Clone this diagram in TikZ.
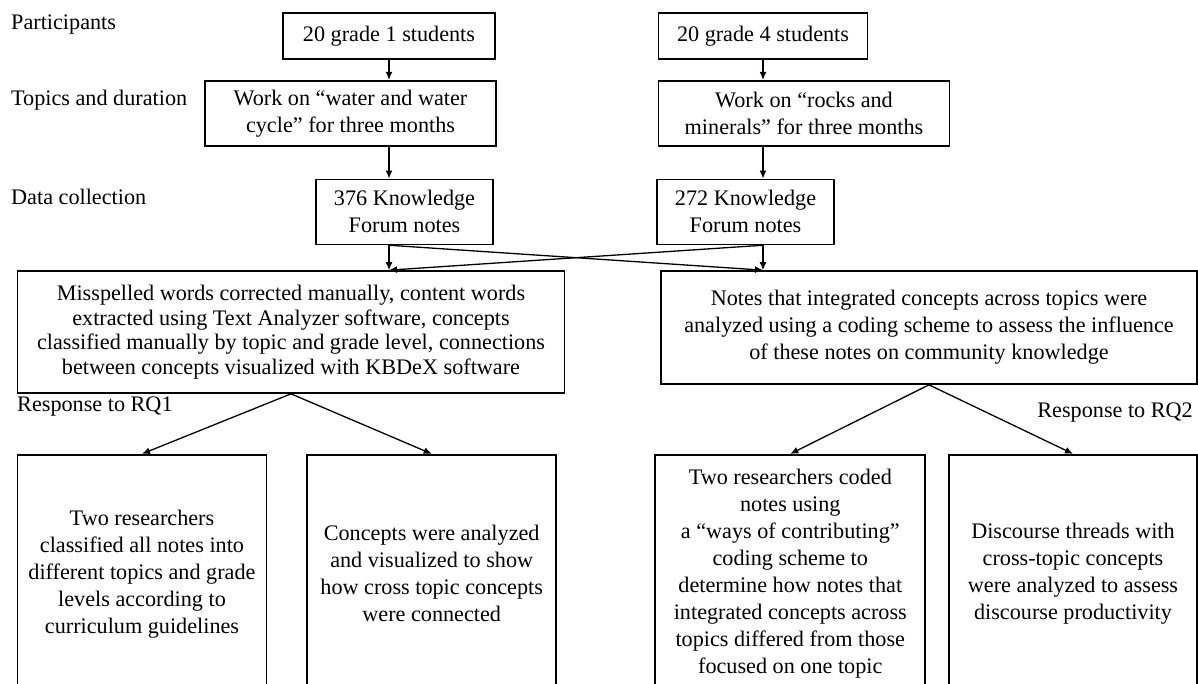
\documentclass[tikz,border=0pt]{standalone}
\usepackage{fontspec}
\setmainfont{Liberation Serif}
\usetikzlibrary{arrows.meta,positioning}

\begin{document}
\begin{tikzpicture}[
    x=1pt, y=-1pt,
    font=\fontsize{22.2pt}{27pt}\selectfont,
    caixa/.style={draw, line width=1.7pt, align=center, inner xsep=4pt,
        inner ysep=2pt},
    rotulo/.style={anchor=west, inner sep=0pt},
    fluxo/.style={-{Latex[length=8pt, width=7pt]}, line width=1.3pt}
]
    \clip (0,0) rectangle (1198,684);

    % row labels
    \node[rotulo] (lblpart) at (11,25) {Participants};
    \node[rotulo] (lbltopic) at (11,100) {Topics and duration};
    \node[rotulo] (lbldata) at (11,197) {Data collection};

    % grade 1 column
    \node[caixa, minimum width=212pt, minimum height=46pt] (grade1) at (389,36)
        {20 grade 1 students};
    \node[caixa, minimum width=291pt, minimum height=65pt,
        below=20pt of grade1.south east, anchor=north east, xshift=1pt] (topic1)
        {Work on ``water and water\\ cycle'' for three months};
    \node[caixa, minimum width=177pt, minimum height=65pt,
        below=32pt of topic1.south east, anchor=north east, xshift=-3pt] (notes1)
        {376 Knowledge\\ Forum notes};

    % grade 4 column
    \node[caixa, minimum width=209pt, minimum height=46pt] (grade4) at (763,36)
        {20 grade 4 students};
    \node[caixa, minimum width=291pt, minimum height=65pt,
        below=20pt of grade4.south west, anchor=north west] (topic4)
        {Work on ``rocks and\\ minerals'' for three months};
    \node[caixa, minimum width=177pt, minimum height=65pt,
        below=32pt of topic4.south west, anchor=north west, xshift=-1.5pt] (notes4)
        {272 Knowledge\\ Forum notes};

    % analysis
    \node[caixa, minimum width=547pt, minimum height=122pt,
        font=\fontsize{22.2pt}{24.6pt}\selectfont] (lexical) at (291,332)
        {Misspelled words corrected manually, content words\\
        extracted using Text Analyzer software, concepts\\
        classified manually by topic and grade level, connections\\
        between concepts visualized with KBDeX software};
    \node[caixa, minimum width=536pt, minimum height=113pt] (discourse) at (929,327.5)
        {Notes that integrated concepts across topics were\\
        analyzed using a coding scheme to assess the influence\\
        of these notes on community knowledge};

    \node[rotulo] (lblrq1) at (17,407) {Response to RQ1};
    \node[rotulo, anchor=east] (lblrq2) at (1193,413) {Response to RQ2};

    % responses
    \node[caixa, minimum width=249pt, minimum height=238pt,
        below=60pt of lexical.south west, anchor=north west] (classify)
        {Two researchers\\ classified all notes into\\ different topics and grade\\
        levels according to\\ curriculum guidelines};
    \node[caixa, minimum width=249pt, minimum height=238pt,
        right=39pt of classify] (visualize)
        {Concepts were analyzed\\ and visualized to show\\ how cross topic concepts\\
        were connected};
    \node[caixa, minimum width=248pt, minimum height=238pt,
        below=69pt of discourse.south east, anchor=north east] (threads)
        {Discourse threads with\\ cross-topic concepts\\ were analyzed to assess\\
        discourse productivity};
    \node[caixa, minimum width=270pt, minimum height=238pt,
        left=22pt of threads] (coding)
        {Two researchers coded\\ notes using\\ a ``ways of contributing''\\
        coding scheme to\\ determine how notes that\\ integrated concepts across\\
        topics differed from those\\ focused on one topic};

    \draw[fluxo] (grade1.south) -- (grade1.south |- topic1.north);
    \draw[fluxo] (grade1.south |- topic1.south) -- (grade1.south |- notes1.north);
    \draw[fluxo] (grade4.south) -- (grade4.south |- topic4.north);
    \draw[fluxo] (grade4.south |- topic4.south) -- (grade4.south |- notes4.north);

    \draw[fluxo] (grade1.south |- notes1.south) -- (grade1.south |- lexical.north);
    \draw[fluxo] (grade1.south |- notes1.south) -- (grade4.south |- discourse.north);
    \draw[fluxo] (grade4.south |- notes4.south) -- (grade4.south |- discourse.north);
    \draw[fluxo] (grade4.south |- notes4.south) -- (grade1.south |- lexical.north);

    \draw[fluxo] (lexical.south) -- (classify.north);
    \draw[fluxo] (lexical.south) -- (visualize.north);
    \draw[fluxo] (discourse.south) -- (coding.north);
    \draw[fluxo] (discourse.south) -- (threads.north);
\end{tikzpicture}
\end{document}
